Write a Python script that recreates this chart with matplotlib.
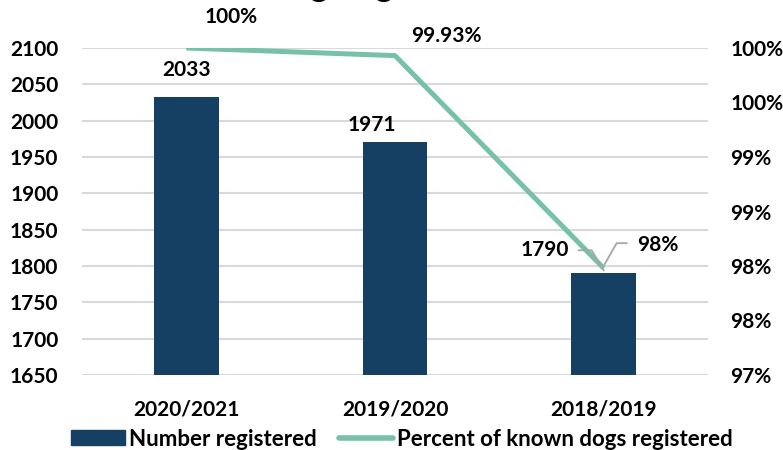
import math
import matplotlib
matplotlib.use("Agg")
import matplotlib.pyplot as plt
from matplotlib.ticker import FuncFormatter, MultipleLocator
from matplotlib.patches import Patch
from matplotlib.lines import Line2D
from matplotlib.transforms import IdentityTransform

# --- data ---
seasons = ["2020/2021", "2019/2020", "2018/2019"]
registered = [2033, 1971, 1790]
pct_registered = [1.0, 0.9993, 0.9798]
pct_labels = ["100%", "99.93%", "98%"]

NAVY = "#153F63"
GREEN = "#76C1A8"
GRID = "#D9D9D9"
LEADER = "#A6A6A6"
FS = 15

plt.rcParams["font.family"] = ["Lato", "DejaVu Sans"]

W, H = 783, 450
fig = plt.figure(figsize=(W / 100, H / 100), dpi=100)
ax = fig.add_axes([82 / W, 1 - 375 / H, (708 - 82) / W, (375 - 48) / H])
ax2 = ax.twinx()

x = list(range(len(seasons)))
ax.bar(x, registered, width=0.31, color=NAVY, zorder=2)
ax.set_xlim(-0.5, 2.5)
ax.set_ylim(1650, 2100)
ax.yaxis.set_major_locator(MultipleLocator(50))
ax.set_xticks(x)
ax.set_xticklabels(seasons)
ax.grid(axis="y", color=GRID, lw=1.5, zorder=0)
ax.set_axisbelow(True)
for s in list(ax.spines.values()) + list(ax2.spines.values()):
    s.set_visible(False)
ax.tick_params(axis="y", length=0, labelsize=FS, pad=17)
ax.tick_params(axis="x", length=0, labelsize=FS, pad=18)
for lab in ax.get_yticklabels() + ax.get_xticklabels():
    lab.set_fontweight("bold")

ax2.plot(x, pct_registered, color=GREEN, lw=3.6, solid_capstyle="butt", zorder=3)
ax2.set_ylim(0.97, 1.0)
ax2.yaxis.set_major_locator(MultipleLocator(0.005))
ax2.yaxis.set_major_formatter(FuncFormatter(lambda v, p: f"{int(math.floor(v * 100 + 0.5))}%"))
ax2.tick_params(length=0, labelsize=FS, pad=16)
for lab in ax2.get_yticklabels():
    lab.set_fontweight("bold")

lab_kw = dict(textcoords="offset points", fontsize=FS, fontweight="bold", annotation_clip=False)

# bar labels
ax.annotate(str(registered[0]), (0, registered[0]), xytext=(0, 19.5), ha="center", va="center", **lab_kw)
ax.annotate(str(registered[1]), (1, registered[1]), xytext=(-16.5, 12), ha="center", va="center", **lab_kw)
ax.annotate(str(registered[2]), (2, registered[2]), xytext=(-25, 16.5), ha="right", va="center", **lab_kw)

# line labels
ax2.annotate(pct_labels[0], (0, pct_registered[0]), xytext=(32, 22), ha="center", va="center", **lab_kw)
ax2.annotate(pct_labels[1], (1, pct_registered[1]), xytext=(37, 14), ha="center", va="center", **lab_kw)
ax2.annotate(pct_labels[2], (2, pct_registered[2]), xytext=(24, 17), ha="left", va="center", **lab_kw)


# leader lines, drawn in pixel offsets from the anchored mark
def leader(axis, xy, offsets):
    px, py = axis.transData.transform(xy)
    fig.add_artist(Line2D([px + dx for dx, dy in offsets], [py + dy for dx, dy in offsets],
                          transform=IdentityTransform(), color=LEADER, lw=1.3, zorder=5))


leader(ax, (2, registered[2]), [(-25, 23), (-12, 23), (0, 3)])
leader(ax2, (2, pct_registered[2]), [(23, 25), (13, 25), (1, 4)])

# title sits above the canvas, only its descenders show
fig.text(0.51, 1 + 3 / H, "Dog Registrations", ha="center", va="baseline",
         fontsize=24, fontweight="bold")

handles = [Patch(color=NAVY), Line2D([0], [0], color=GREEN, lw=4, solid_capstyle="round")]
fig.legend(handles, ["Number registered", "Percent of known dogs registered"],
           loc="center", bbox_to_anchor=(0.513, 1 - 439 / H), ncol=2, frameon=False,
           handlelength=2.45, handleheight=0.65, handletextpad=0.15, columnspacing=1.0,
           prop={"weight": "bold", "size": 16})

fig.savefig("out.png", dpi=100)
